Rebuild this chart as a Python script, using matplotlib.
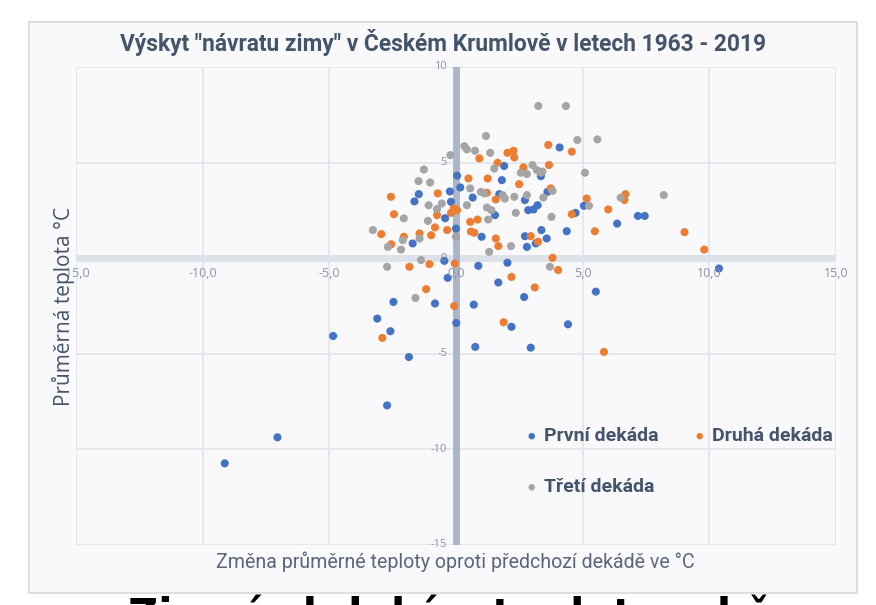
import matplotlib
matplotlib.use('Agg')
import matplotlib.pyplot as plt
from matplotlib.patches import Rectangle

# no condensed font here, Roboto is the narrowest one installed
plt.rcParams['font.family'] = ['Roboto', 'DejaVu Sans']

title = 'Výskyt "návratu zimy" v Českém Krumlově v letech 1963 - 2019'
x_title = 'Změna průměrné teploty oproti předchozí dekádě ve °C'
y_title = 'Průměrná teplota °C'
series_names = ['První dekáda', 'Druhá dekáda', 'Třetí dekáda']
series_colors = ['#4472c4', '#ed7d31', '#a5a5a5']

x_ticks = [-15, -10, -5, 0, 5, 10, 15]
y_ticks = [10, 5, 0, -5, -10, -15]

# první dekáda (x = změna teploty, y = průměrná teplota)
prvni_x = [0.04, -0.24, -1.47, -1.64, -0.20, -0.43, 0.00, -1.71, -0.46, 0.88,
           1.90, 3.35, 1.81, 0.17, 1.71, 3.61, 0.66, 2.72, 1.54, 2.85,
           3.06, 3.22, 1.01, 2.72, 2.80, 3.37, 3.58, 2.03, 4.09, 5.05,
           7.18, 7.45, 4.72, 6.36, 4.37, 3.15, 10.38, 1.67, 2.69, 5.52,
           2.19, 4.42, 2.95, -0.33, -2.47, -0.83, 0.70, -3.11, -2.59, 0.01,
           -4.85, 0.76, -1.86, -2.72, -7.05, -9.13]
prvni_y = [4.31, 3.49, 3.35, 2.97, 2.95, 2.09, 1.55, 0.77, -0.14, -0.40,
           4.82, 4.29, 4.08, 3.70, 3.35, 3.47, 3.17, 3.04, 2.25, 2.51,
           2.55, 2.77, 1.12, 1.15, 0.59, 1.47, 1.03, -0.24, 5.79, 2.74,
           2.21, 2.21, 2.37, 1.81, 1.41, 0.77, -0.54, -1.27, -2.03, -1.75,
           -3.59, -3.46, -4.68, -1.03, -2.29, -2.37, -2.43, -3.16, -3.82, -3.39,
           -4.07, -4.64, -5.17, -7.70, -9.37, -10.73]

# druhá dekáda
druha_x = [-0.72, -2.57, -0.09, 0.04, -0.20, -2.45, -0.75, -0.83, -0.35, -2.95,
           -2.06, -1.44, -0.98, -2.56, -1.05, -1.84, -0.05, 0.92, 2.03, 2.27,
           2.30, 3.64, 1.64, 2.66, 3.67, 0.49, 1.25, 2.49, 1.22, 1.57,
           0.56, 0.85, 0.59, 0.72, 1.57, 1.67, 2.95, 3.24, 4.57, 3.74,
           5.16, 6.01, 6.69, 6.65, 4.57, 5.48, 3.81, 4.03, 9.80, 9.02,
           2.19, 3.11, 1.88, 5.84, -1.18, -0.07, -2.91]
druha_y = [3.39, 3.21, 2.60, 2.51, 2.37, 2.30, 2.25, 1.61, 1.47, 1.26,
           1.12, 1.29, 1.20, 0.73, -0.31, -0.45, -0.28, 5.22, 5.51, 5.62,
           5.27, 5.92, 4.99, 4.75, 4.87, 4.17, 4.17, 3.87, 3.42, 3.07,
           1.90, 2.02, 1.39, 1.33, 1.03, 0.63, 1.15, 0.86, 5.57, 3.65,
           3.12, 2.55, 3.35, 3.04, 2.30, 1.41, 0.02, -0.62, 0.45, 1.36,
           -0.98, -1.53, -3.35, -4.90, -1.62, -2.50, -4.17]

# třetí dekáda
treti_x = [-0.22, -1.27, -1.48, -1.02, -0.56, -1.08, -0.75, -2.06, -1.11, 0.00,
           -3.28, -2.10, -1.44, -2.69, -2.17, -1.38, -2.72, 0.33, 0.43, 0.75,
           1.18, 1.35, 1.51, 3.02, 2.56, 2.80, 3.19, 3.35, 0.56, 0.98,
           1.11, 1.84, 1.93, 2.30, 2.80, 0.43, 1.22, 1.40, 2.36, 1.27,
           2.17, 1.31, 3.25, 4.34, 4.79, 5.58, 5.09, 3.81, 3.45, 5.25,
           6.50, 3.77, 3.71, 8.20, -1.60, 3.41]
treti_y = [5.39, 4.64, 4.03, 3.96, 2.86, 2.77, 2.57, 2.08, 1.95, 1.12,
           1.47, 0.94, 1.03, 0.59, 0.45, -0.10, -0.45, 5.86, 5.69, 5.62,
           6.39, 5.51, 4.69, 4.87, 4.47, 4.40, 4.61, 4.47, 3.65, 3.47,
           3.39, 3.30, 3.12, 3.21, 3.30, 2.77, 2.65, 2.51, 2.37, 2.02,
           0.63, 0.33, 7.96, 7.96, 6.18, 6.21, 4.47, 3.52, 3.17, 2.74,
           3.17, 2.16, -0.45, 3.30, -2.08, 4.53]

series = [(prvni_x, prvni_y), (druha_x, druha_y), (treti_x, treti_y)]

text_col = '#44546a'
tick_col = '#8a93a3'
grid_col = '#e3e6ec'

fig = plt.figure(figsize=(8.76, 6.05), dpi=100)
fig.patch.set_facecolor('white')

# chart box behind everything
fig.patches.append(Rectangle((0.033, 0.020), 0.945, 0.944, transform=fig.transFigure,
                             facecolor='#f9f9fb', edgecolor='#d6d9df', lw=1.2, zorder=-5))

ax = fig.add_axes([0.0868, 0.0992, 0.8675, 0.7901])
ax.set_facecolor('#f9f9fb')
ax.set_xlim(-15, 15)
ax.set_ylim(-15, 10)

# gridlines
for xv in x_ticks:
    ax.axvline(xv, color=grid_col, lw=1.3, zorder=1)
for yv in y_ticks:
    ax.axhline(yv, color=grid_col, lw=1.3, zorder=1)

# axes crossing at zero
ax.axhline(0, color='#dde1e9', lw=5, zorder=2)
ax.axvline(0, color='#abb6c8', lw=5, zorder=2)

handles = []
for (xs, ys), name, col in zip(series, series_names, series_colors):
    h = ax.scatter(xs, ys, s=34, color=col, edgecolors='none', zorder=3, label=name)
    handles.append(h)

ax.set_xticks([])
ax.set_yticks([])
for sp in ax.spines.values():
    sp.set_visible(False)

# tick labels placed next to the crossing axes
for xv in x_ticks:
    ax.text(xv, -0.45, f'{xv:.1f}'.replace('.', ','), ha='center', va='top',
            fontsize=9, color=tick_col, family=['Open Sans', 'DejaVu Sans'], zorder=4)
for yv in y_ticks:
    ax.text(-0.35, yv, str(yv), ha='right', va='center',
            fontsize=8, color=tick_col, family=['Open Sans', 'DejaVu Sans'], zorder=4)

fig.text(0.506, 0.930, title, ha='center', va='center', fontsize=16.4,
         fontweight='bold', color=text_col)
fig.text(0.520, 0.071, x_title, ha='center', va='center', fontsize=14.1, color='#5b667a')
fig.text(0.072, 0.493, y_title, ha='center', va='center', rotation=90, fontsize=15,
         color=text_col, family=['Open Sans', 'DejaVu Sans'])

# legend fills by column, so reorder to get Prvni | Druha on the first row
order = [0, 2, 1]
leg = ax.legend([handles[i] for i in order], [series_names[i] for i in order],
                loc='center left', bbox_to_anchor=(0.592, 0.174), ncol=2, frameon=False,
                borderpad=0, borderaxespad=0, handlelength=0.6, markerscale=0.8,
                handletextpad=0.35, columnspacing=1.8, labelspacing=1.7,
                prop={'weight': 'bold', 'size': 14})
for t in leg.get_texts():
    t.set_color(text_col)

# slide text below the chart, cut off by the picture edge
fig.text(0.146, -0.040, 'Zimní období a teplota v březnu a dubnu', ha='left', va='baseline',
         fontsize=30, fontweight='bold', color='black', family=['DejaVu Sans'])

fig.savefig('out.png', dpi=100)
